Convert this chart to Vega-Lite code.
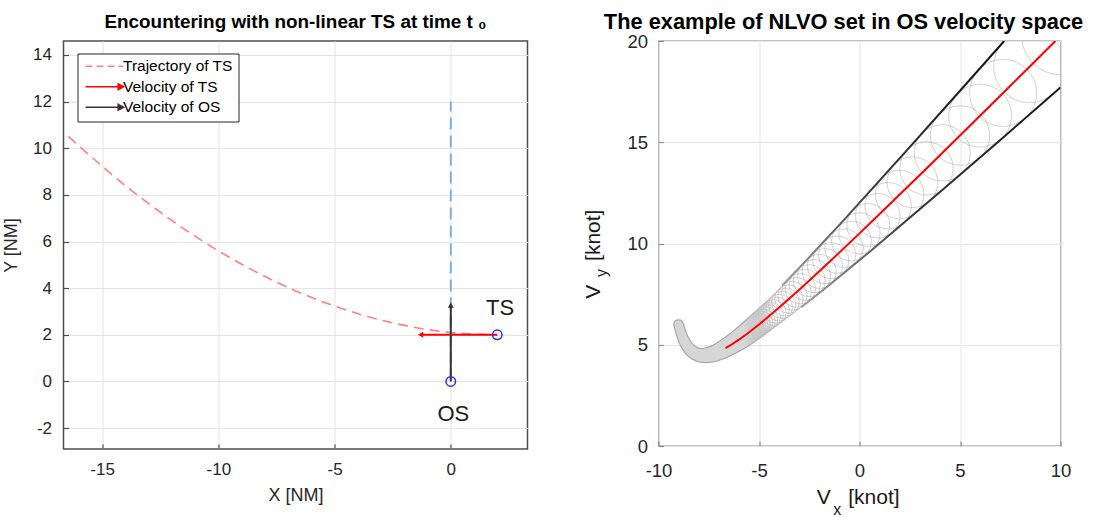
{
"$schema": "https://vega.github.io/schema/vega-lite/v6.json",
"background": "white",
"padding": {"left": 1.5, "top": 11, "right": 5, "bottom": 5},
"bounds": "flush",
"spacing": 131,
"resolve": {"scale": {"x": "independent", "y": "independent", "size": "independent"}},
"config": {
  "font": "Liberation Sans",
  "axis": {"domain": false, "ticks": true, "tickSize": -5, "tickWidth": 1.2, "grid": true, "gridColor": "#e4e4e4", "gridWidth": 1, "labelColor": "#262626", "titleColor": "#262626", "labelFont": "Liberation Sans", "titleFont": "Liberation Sans", "titleFontWeight": "normal", "labelFlush": false, "labelExpr": "'' + datum.value"},
  "legend": {"labelFont": "Liberation Sans"},
  "title": {"font": "Liberation Sans", "color": "#000000"}
},
"hconcat": [
 {
  "width": 464, "height": 408,
  "view": {"stroke": "#4d4d4d", "strokeWidth": 1.5},
  "title": {"text": "Encountering with non-linear TS at time t ₀", "fontSize": 18.9, "fontWeight": "bold", "anchor": "middle", "frame": "group", "baseline": "alphabetic", "offset": -6},
  "encoding": {
    "x": {"field": "x", "type": "quantitative", "scale": {"domain": [-16.66, 3.3], "nice": false, "zero": false}, "axis": {"values": [-15, -10, -5, 0], "title": "X [NM]", "labelFontSize": 17, "titleFontSize": 18, "labelPadding": 17, "titlePadding": 9, "tickColor": "#4d4d4d"}},
    "y": {"field": "y", "type": "quantitative", "scale": {"domain": [-2.9, 14.6], "nice": false, "zero": false}, "axis": {"values": [-2, 0, 2, 4, 6, 8, 10, 12, 14], "title": "Y [NM]", "labelFontSize": 17, "titleFontSize": 18, "labelPadding": 17, "titlePadding": 12, "tickColor": "#4d4d4d"}}
  },
  "layer": [
   {
    "data": {"values": [
      {"series": "Trajectory of TS", "x": -16.45, "y": 10.51},
      {"series": "Trajectory of TS", "x": -15, "y": 9.23},
      {"series": "Trajectory of TS", "x": -13.75, "y": 8.2},
      {"series": "Trajectory of TS", "x": -12.5, "y": 7.26},
      {"series": "Trajectory of TS", "x": -11.25, "y": 6.39},
      {"series": "Trajectory of TS", "x": -10, "y": 5.6},
      {"series": "Trajectory of TS", "x": -8.75, "y": 4.89},
      {"series": "Trajectory of TS", "x": -7.5, "y": 4.26},
      {"series": "Trajectory of TS", "x": -6.25, "y": 3.7},
      {"series": "Trajectory of TS", "x": -5, "y": 3.23},
      {"series": "Trajectory of TS", "x": -3.75, "y": 2.83},
      {"series": "Trajectory of TS", "x": -2.5, "y": 2.51},
      {"series": "Trajectory of TS", "x": -1.25, "y": 2.26},
      {"series": "Trajectory of TS", "x": 0, "y": 2.1},
      {"series": "Trajectory of TS", "x": 1, "y": 2.03},
      {"series": "Trajectory of TS", "x": 2, "y": 2.0}
    ]},
    "mark": {"type": "line", "strokeWidth": 1.6, "strokeDash": [10, 6], "interpolate": "monotone"},
    "encoding": {
      "color": {"field": "series", "type": "nominal",
        "scale": {"domain": ["Trajectory of TS", "Velocity of TS", "Velocity of OS"], "range": ["#ff8080", "#ff0000", "#333333"]},
        "legend": {"title": null, "orient": "none", "legendX": 14, "legendY": 12.5, "fillColor": "#ffffff", "strokeColor": "#262626", "padding": 5, "rowPadding": 3.5, "labelFontSize": 15.5, "labelColor": "#000000", "labelLimit": 300, "symbolSize": 90, "labelOffset": 25, "symbolStrokeWidth": 1.6,
          "encode": {"symbols": {"update": {
            "shape": {"signal": "datum.value === 'Trajectory of TS' ? 'M-1,0L7,0' : 'M-1,0L6,0M5.9,-0.6L7,0L5.9,0.6Z'"},
            "strokeDash": {"signal": "datum.value === 'Trajectory of TS' ? [7, 4] : [1, 0]"},
            "stroke": {"signal": "datum.value === 'Trajectory of TS' ? '#ff8080' : datum.value === 'Velocity of TS' ? '#ff0000' : '#333333'"},
            "fill": {"signal": "datum.value === 'Velocity of TS' ? '#ff0000' : datum.value === 'Velocity of OS' ? '#333333' : 'transparent'"},
            "strokeWidth": {"value": 1.6},
            "opacity": {"value": 1}
          }}}
        }
      }
    }
   },
   {
    "data": {"values": [
      {"series": "Velocity of TS", "x": 2, "y": 2},
      {"series": "Velocity of TS", "x": -1.25, "y": 2}
    ]},
    "mark": {"type": "line", "strokeWidth": 2},
    "encoding": {"color": {"field": "series", "type": "nominal"}}
   },
   {
    "data": {"values": [
      {"x": 0, "y": 0},
      {"x": 0, "y": 12}
    ]},
    "mark": {"type": "line", "color": "#7fb1d9", "strokeWidth": 2, "strokeDash": [12, 6]},
    "encoding": {}
   },
   {
    "data": {"values": [
      {"series": "Velocity of OS", "x": 0, "y": 0},
      {"series": "Velocity of OS", "x": 0, "y": 3.22}
    ]},
    "mark": {"type": "line", "strokeWidth": 2},
    "encoding": {"color": {"field": "series", "type": "nominal"}}
   },
   {
    "data": {"values": [
      {"series": "Velocity of TS", "x": -1.3, "y": 2, "heading": 270},
      {"series": "Velocity of OS", "x": 0, "y": 3.27, "heading": 0}
    ]},
    "mark": {"type": "point", "shape": "triangle-up", "filled": true, "size": 36, "opacity": 1},
    "encoding": {
      "color": {"field": "series", "type": "nominal"},
      "angle": {"field": "heading", "type": "quantitative", "scale": {"domain": [0, 360], "range": [0, 360]}}
    }
   },
   {
    "data": {"values": [
      {"ship": "OS", "x": 0, "y": 0},
      {"ship": "TS", "x": 2, "y": 2}
    ]},
    "mark": {"type": "point", "shape": "circle", "filled": false, "size": 90, "strokeWidth": 1.5, "color": "#2b2bff", "opacity": 1}
   },
   {
    "data": {"values": [
      {"label": "TS", "x": 2.12, "y": 2.86},
      {"label": "OS", "x": 0.11, "y": -1.71}
    ]},
    "mark": {"type": "text", "fontSize": 22, "align": "center", "baseline": "alphabetic", "color": "#1a1a1a"},
    "encoding": {"text": {"field": "label"}}
   }
  ]
 },
 {
  "width": 402, "height": 405,
  "view": {"stroke": "#8a8a8a", "strokeWidth": 1.3},
  "title": {"text": "The example of NLVO set in OS velocity space", "fontSize": 21.8, "fontWeight": "bold", "anchor": "middle", "frame": "group", "baseline": "alphabetic", "offset": -18.5, "dx": -16},
  "encoding": {
    "x": {"field": "x", "type": "quantitative", "scale": {"domain": [-10, 10], "nice": false}, "axis": {"values": [-10, -5, 0, 5, 10], "title": null, "labelFontSize": 18.5, "labelPadding": 20, "gridColor": "#e6e6e6", "tickColor": "#8a8a8a"}},
    "y": {"field": "y", "type": "quantitative", "scale": {"domain": [0, 20], "nice": false}, "axis": {"values": [0, 5, 10, 15, 20], "title": null, "labelFontSize": 18.5, "labelPadding": 16, "gridColor": "#e6e6e6", "tickColor": "#8a8a8a"}}
  },
  "resolve": {"scale": {"size": "independent"}},
  "layer": [
   {
    "data": {"values": [
      {"x": 10, "y": 20.25, "r": 1.92},
      {"x": 8.462, "y": 18.732, "r": 1.782},
      {"x": 7.143, "y": 17.435, "r": 1.663},
      {"x": 6, "y": 16.313, "r": 1.56},
      {"x": 5, "y": 15.333, "r": 1.47},
      {"x": 4.118, "y": 14.472, "r": 1.391},
      {"x": 3.333, "y": 13.708, "r": 1.32},
      {"x": 2.632, "y": 13.027, "r": 1.257},
      {"x": 2, "y": 12.417, "r": 1.2},
      {"x": 1.429, "y": 11.866, "r": 1.149},
      {"x": 0.909, "y": 11.367, "r": 1.102},
      {"x": 0.435, "y": 10.914, "r": 1.059},
      {"x": 0, "y": 10.5, "r": 1.02},
      {"x": -0.4, "y": 10.121, "r": 0.984},
      {"x": -0.769, "y": 9.772, "r": 0.951},
      {"x": -1.111, "y": 9.451, "r": 0.92},
      {"x": -1.429, "y": 9.155, "r": 0.891},
      {"x": -1.724, "y": 8.88, "r": 0.865},
      {"x": -2, "y": 8.625, "r": 0.84},
      {"x": -2.258, "y": 8.388, "r": 0.817},
      {"x": -2.5, "y": 8.167, "r": 0.795},
      {"x": -2.727, "y": 7.96, "r": 0.775},
      {"x": -2.941, "y": 7.767, "r": 0.755},
      {"x": -3.143, "y": 7.586, "r": 0.737},
      {"x": -3.333, "y": 7.417, "r": 0.72},
      {"x": -3.514, "y": 7.257, "r": 0.704},
      {"x": -3.684, "y": 7.107, "r": 0.688},
      {"x": -3.846, "y": 6.966, "r": 0.674},
      {"x": -4, "y": 6.833, "r": 0.66},
      {"x": -4.146, "y": 6.708, "r": 0.647},
      {"x": -4.286, "y": 6.589, "r": 0.634},
      {"x": -4.419, "y": 6.477, "r": 0.622},
      {"x": -4.545, "y": 6.371, "r": 0.611},
      {"x": -4.667, "y": 6.271, "r": 0.6},
      {"x": -4.783, "y": 6.176, "r": 0.59},
      {"x": -4.894, "y": 6.086, "r": 0.58},
      {"x": -5, "y": 6, "r": 0.57},
      {"x": -5.102, "y": 5.919, "r": 0.561},
      {"x": -5.2, "y": 5.842, "r": 0.552},
      {"x": -5.294, "y": 5.768, "r": 0.544},
      {"x": -5.385, "y": 5.699, "r": 0.535},
      {"x": -5.472, "y": 5.633, "r": 0.528},
      {"x": -5.556, "y": 5.569, "r": 0.52},
      {"x": -5.636, "y": 5.509, "r": 0.513},
      {"x": -5.714, "y": 5.452, "r": 0.506},
      {"x": -5.789, "y": 5.398, "r": 0.499},
      {"x": -5.862, "y": 5.346, "r": 0.492},
      {"x": -5.932, "y": 5.297, "r": 0.486},
      {"x": -6, "y": 5.25, "r": 0.48}
    ]},
    "mark": {"type": "point", "shape": "circle", "filled": false, "color": "#9c9c9c", "strokeWidth": 0.9, "opacity": 0.5, "clip": true},
    "encoding": {
      "size": {"field": "r", "type": "quantitative", "scale": {"type": "pow", "exponent": 2, "domain": [0, 2], "range": [0, 6529]}, "legend": null}
    }
   },
   {
    "data": {"name": "hook", "values": [
      {"t": 0.35, "x": -4.286, "y": 6.589, "r": 0.634},
      {"t": 0.4, "x": -5, "y": 6, "r": 0.57},
      {"t": 0.45, "x": -5.556, "y": 5.569, "r": 0.52},
      {"t": 0.5, "x": -6, "y": 5.25, "r": 0.48},
      {"t": 0.55, "x": -6.364, "y": 5.011, "r": 0.447},
      {"t": 0.6, "x": -6.667, "y": 4.833, "r": 0.42},
      {"t": 0.65, "x": -6.923, "y": 4.702, "r": 0.397},
      {"t": 0.7, "x": -7.143, "y": 4.607, "r": 0.377},
      {"t": 0.75, "x": -7.333, "y": 4.542, "r": 0.36},
      {"t": 0.8, "x": -7.5, "y": 4.5, "r": 0.345},
      {"t": 0.85, "x": -7.647, "y": 4.478, "r": 0.332},
      {"t": 0.9, "x": -7.778, "y": 4.472, "r": 0.32},
      {"t": 0.95, "x": -7.895, "y": 4.48, "r": 0.309},
      {"t": 1.0, "x": -8, "y": 4.5, "r": 0.3},
      {"t": 1.1, "x": -8.182, "y": 4.568, "r": 0.284},
      {"t": 1.2, "x": -8.333, "y": 4.667, "r": 0.27},
      {"t": 1.3, "x": -8.462, "y": 4.788, "r": 0.258},
      {"t": 1.4, "x": -8.571, "y": 4.929, "r": 0.249},
      {"t": 1.5, "x": -8.667, "y": 5.083, "r": 0.24},
      {"t": 1.6, "x": -8.75, "y": 5.25, "r": 0.233},
      {"t": 1.7, "x": -8.824, "y": 5.426, "r": 0.226},
      {"t": 1.8, "x": -8.889, "y": 5.611, "r": 0.22},
      {"t": 1.9, "x": -8.947, "y": 5.803, "r": 0.215},
      {"t": 2.0, "x": -9, "y": 6, "r": 0.21}
    ]},
    "mark": {"type": "trail",
      "color": {"gradient": "linear", "x1": 0, "y1": 0.5, "x2": 1, "y2": 0.5, "stops": [
        {"offset": 0, "color": "#a3a3a3"},
        {"offset": 0.62, "color": "#a3a3a3"},
        {"offset": 0.9, "color": "rgba(163,163,163,0)"},
        {"offset": 1, "color": "rgba(163,163,163,0)"}
      ]}},
    "encoding": {
      "order": {"field": "t", "type": "quantitative"},
      "size": {"field": "r", "type": "quantitative", "scale": {"domain": [0, 1], "range": [2.2, 42.6]}, "legend": null}
    }
   },
   {
    "data": {"name": "hook"},
    "mark": {"type": "trail",
      "color": {"gradient": "linear", "x1": 0, "y1": 0.5, "x2": 1, "y2": 0.5, "stops": [
        {"offset": 0, "color": "#d6d6d6"},
        {"offset": 0.62, "color": "#d6d6d6"},
        {"offset": 0.9, "color": "rgba(214,214,214,0)"},
        {"offset": 1, "color": "rgba(214,214,214,0)"}
      ]}},
    "encoding": {
      "order": {"field": "t", "type": "quantitative"},
      "size": {"field": "r", "type": "quantitative", "scale": {"domain": [0, 1], "range": [0, 40.4]}, "legend": null}
    }
   },
   {
    "data": {"values": [
      {"t": 0.1013, "x": 9.747, "y": 20},
      {"t": 0.1083, "x": 8.462, "y": 18.732},
      {"t": 0.1167, "x": 7.143, "y": 17.435},
      {"t": 0.1333, "x": 5, "y": 15.333},
      {"t": 0.15, "x": 3.333, "y": 13.708},
      {"t": 0.1667, "x": 2, "y": 12.417},
      {"t": 0.1833, "x": 0.909, "y": 11.367},
      {"t": 0.2, "x": 0, "y": 10.5},
      {"t": 0.225, "x": -1.111, "y": 9.451},
      {"t": 0.25, "x": -2, "y": 8.625},
      {"t": 0.2833, "x": -2.941, "y": 7.767},
      {"t": 0.3167, "x": -3.684, "y": 7.107},
      {"t": 0.35, "x": -4.286, "y": 6.589},
      {"t": 0.4, "x": -5, "y": 6},
      {"t": 0.45, "x": -5.556, "y": 5.569},
      {"t": 0.5, "x": -6, "y": 5.25},
      {"t": 0.55, "x": -6.364, "y": 5.011},
      {"t": 0.6, "x": -6.667, "y": 4.833}
    ]},
    "mark": {"type": "line", "color": "#ff0000", "strokeWidth": 2, "clip": true},
    "encoding": {"order": {"field": "t", "type": "quantitative"}}
   },
   {
    "data": {"values": [
      {"side": "upper", "t": 0.1105, "x": 7.197, "y": 20},
      {"side": "upper", "t": 0.125, "x": 4.837, "y": 17.357},
      {"side": "upper", "t": 0.15, "x": 2.353, "y": 14.597},
      {"side": "upper", "t": 0.2, "x": -0.75, "y": 11.195},
      {"side": "upper", "t": 0.25, "x": -2.608, "y": 9.207},
      {"side": "upper", "t": 0.3, "x": -3.845, "y": 7.925},
      {"side": "lower", "t": 0.1035, "x": 10, "y": 17.706},
      {"side": "lower", "t": 0.125, "x": 7.021, "y": 15.129},
      {"side": "lower", "t": 0.15, "x": 4.193, "y": 12.703},
      {"side": "lower", "t": 0.2, "x": 0.656, "y": 9.716},
      {"side": "lower", "t": 0.25, "x": -1.47, "y": 7.971},
      {"side": "lower", "t": 0.3, "x": -2.889, "y": 6.848}
    ]},
    "mark": {"type": "line", "strokeWidth": 2, "clip": true,
      "color": {"gradient": "linear", "x1": 0, "y1": 1, "x2": 1, "y2": 0, "stops": [
        {"offset": 0, "color": "#a0a0a0"},
        {"offset": 0.4, "color": "#3a3a3a"},
        {"offset": 1, "color": "#111111"}
      ]}},
    "encoding": {"detail": {"field": "side"}, "order": {"field": "t", "type": "quantitative"}}
   },
   {
    "data": {"values": [
      {"label": "V", "x": -2.13, "y": -2.85},
      {"label": "[knot]", "x": -0.56, "y": -2.85}
    ]},
    "mark": {"type": "text", "fontSize": 21, "align": "left", "baseline": "alphabetic", "color": "#1a1a1a"},
    "encoding": {"text": {"field": "label"}}
   },
   {
    "data": {"values": [
      {"label": "x", "x": -1.3, "y": -3.41}
    ]},
    "mark": {"type": "text", "fontSize": 16, "align": "left", "baseline": "alphabetic", "color": "#1a1a1a"},
    "encoding": {"text": {"field": "label"}}
   },
   {
    "data": {"values": [
      {"label": "V", "x": -12.91, "y": 7.27},
      {"label": "[knot]", "x": -12.91, "y": 9.14}
    ]},
    "mark": {"type": "text", "fontSize": 21, "align": "left", "baseline": "alphabetic", "angle": 270, "color": "#1a1a1a"},
    "encoding": {"text": {"field": "label"}}
   },
   {
    "data": {"values": [
      {"label": "y", "x": -12.56, "y": 8.35}
    ]},
    "mark": {"type": "text", "fontSize": 16, "align": "left", "baseline": "alphabetic", "angle": 270, "color": "#1a1a1a"},
    "encoding": {"text": {"field": "label"}}
   }
  ]
 }
]
}
